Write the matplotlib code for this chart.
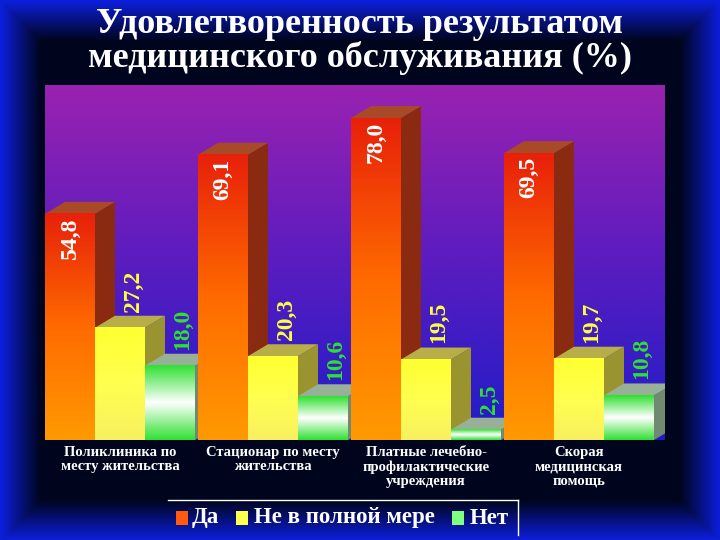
import numpy as np
import matplotlib
matplotlib.use("Agg")
import matplotlib.pyplot as plt
from matplotlib.patches import Polygon, Rectangle
from matplotlib.colors import LinearSegmentedColormap

categories = ["Поликлиника по\nместу жительства", "Стационар по месту\nжительства",
              "Платные лечебно-\nпрофилактические\nучреждения", "Скорая\nмедицинская\nпомощь"]
series_names = ["Да", "Не в полной мере", "Нет"]
da = [54.8, 69.1, 78.0, 69.5]
ne_polno = [27.2, 20.3, 19.5, 19.7]
net = [18.0, 10.6, 2.5, 10.8]
labels_da = ["54,8", "69,1", "78,0", "69,5"]
labels_ne = ["27,2", "20,3", "19,5", "19,7"]
labels_net = ["18,0", "10,6", "2,5", "10,8"]

serif = "Liberation Serif"
fig = plt.figure(figsize=(7.2, 5.4), dpi=100)
fig.patch.set_facecolor("black")

bg = fig.add_axes([0, 0, 1, 1])
yy, xx = np.mgrid[0:540, 0:720]
d = np.minimum.reduce([xx, 720 - xx, yy, 540 - yy]).astype(float)
glow = np.clip(1 - d / 40.0, 0, 1)
img = np.zeros((540, 720, 3))
img[..., 0] = 0.0 + 0.05 * glow
img[..., 1] = 0.02 + 0.1 * glow
img[..., 2] = 0.12 + 0.75 * glow
bg.imshow(img, aspect="auto", extent=[0, 1, 0, 1])
bg.axis("off")

ax = fig.add_axes([45 / 720, 100 / 540, 620 / 720, 355 / 540])
ax.set_xlim(0, 620)
ax.set_ylim(0, 86)
ax.axis("off")
grad = np.linspace(0, 1, 256)[:, None]
bgc = LinearSegmentedColormap.from_list("bgc", ["#1e1cc8", "#5a1cc0", "#9a22b0"])
ax.imshow(grad, cmap=bgc, aspect="auto", extent=[0, 620, 0, 86], origin="lower", zorder=0)

group_w = 153
bar_w = 50
dx, dy = 20, 2.9
cmaps = [
    LinearSegmentedColormap.from_list("r", ["#ff9a00", "#ff6a00", "#e8200a"]),
    LinearSegmentedColormap.from_list("y", ["#f8f060", "#ffff50", "#ffff30"]),
    LinearSegmentedColormap.from_list("g", ["#30e030", "#ffffff", "#30e030"]),
]
side_cols = ["#8a2a10", "#9a9430", "#6f8a70"]
top_cols = ["#a84a28", "#b8ae48", "#98b098"]
lab_cols = ["white", "#ffff40", "#30e030"]
all_vals = [da, ne_polno, net]
all_labs = [labels_da, labels_ne, labels_net]

for i in range(len(categories)):
    for j, vals in enumerate(all_vals):
        v = vals[i]
        x0 = i * group_w + j * bar_w
        x1 = x0 + bar_w
        z = 2 + j * 0.1 + i
        ax.add_patch(Polygon([(x1, 0), (x1 + dx, dy), (x1 + dx, v + dy), (x1, v)],
                             closed=True, facecolor=side_cols[j], edgecolor="none", zorder=z))
        ax.add_patch(Polygon([(x0, v), (x0 + dx, v + dy), (x1 + dx, v + dy), (x1, v)],
                             closed=True, facecolor=top_cols[j], edgecolor="none", zorder=z))
        g = np.linspace(0, 1, 256)[:, None]
        ax.imshow(g, cmap=cmaps[j], aspect="auto", extent=[x0, x1, 0, v],
                  origin="lower", zorder=z + 0.05)
        if j == 0:
            ax.text(x0 + bar_w / 2, v - 1.0, all_labs[j][i], rotation=90, ha="center", va="top",
                    color=lab_cols[j], fontsize=17, fontweight="bold", family=serif, zorder=20)
        else:
            ax.text(x0 + bar_w / 2 + dx / 2 + 3, v + dy + 1.0, all_labs[j][i], rotation=90,
                    ha="center", va="bottom", color=lab_cols[j], fontsize=17, fontweight="bold",
                    family=serif, zorder=20)
    ax.text(i * group_w + 1.5 * bar_w, -1.5, categories[i], ha="center", va="top", color="white",
            fontsize=10.5, fontweight="bold", family=serif, linespacing=1.1, zorder=20, clip_on=False)

fig.text(0.5, 0.985, "Удовлетворенность результатом\nмедицинского обслуживания (%)",
         ha="center", va="top", color="white", fontsize=26, fontweight="bold",
         family=serif, linespacing=1.0)

lx0, lx1, ly = 168 / 720, 518 / 720, 1 - 518 / 540
fig.lines.append(plt.Line2D([lx0, lx1], [1 - 500 / 540] * 2, color="white", lw=1, transform=fig.transFigure))
fig.lines.append(plt.Line2D([lx1, lx1], [1 - 500 / 540, 1 - 535 / 540], color="white", lw=1, transform=fig.transFigure))
sw = [("#ff5a10", 176), ("#ffff50", 236), ("#80ff80", 452)]
names_x = [192, 254, 470]
for (c, px), name, nx in zip(sw, series_names, names_x):
    fig.patches.append(Rectangle((px / 720, ly - 7 / 540), 12 / 720, 14 / 540, facecolor=c,
                                 edgecolor="none", transform=fig.transFigure))
    fig.text(nx / 720, ly, name, ha="left", va="center", color="white", fontsize=16.5,
             fontweight="bold", family=serif)

fig.savefig("out.png", dpi=100, facecolor=fig.get_facecolor())
